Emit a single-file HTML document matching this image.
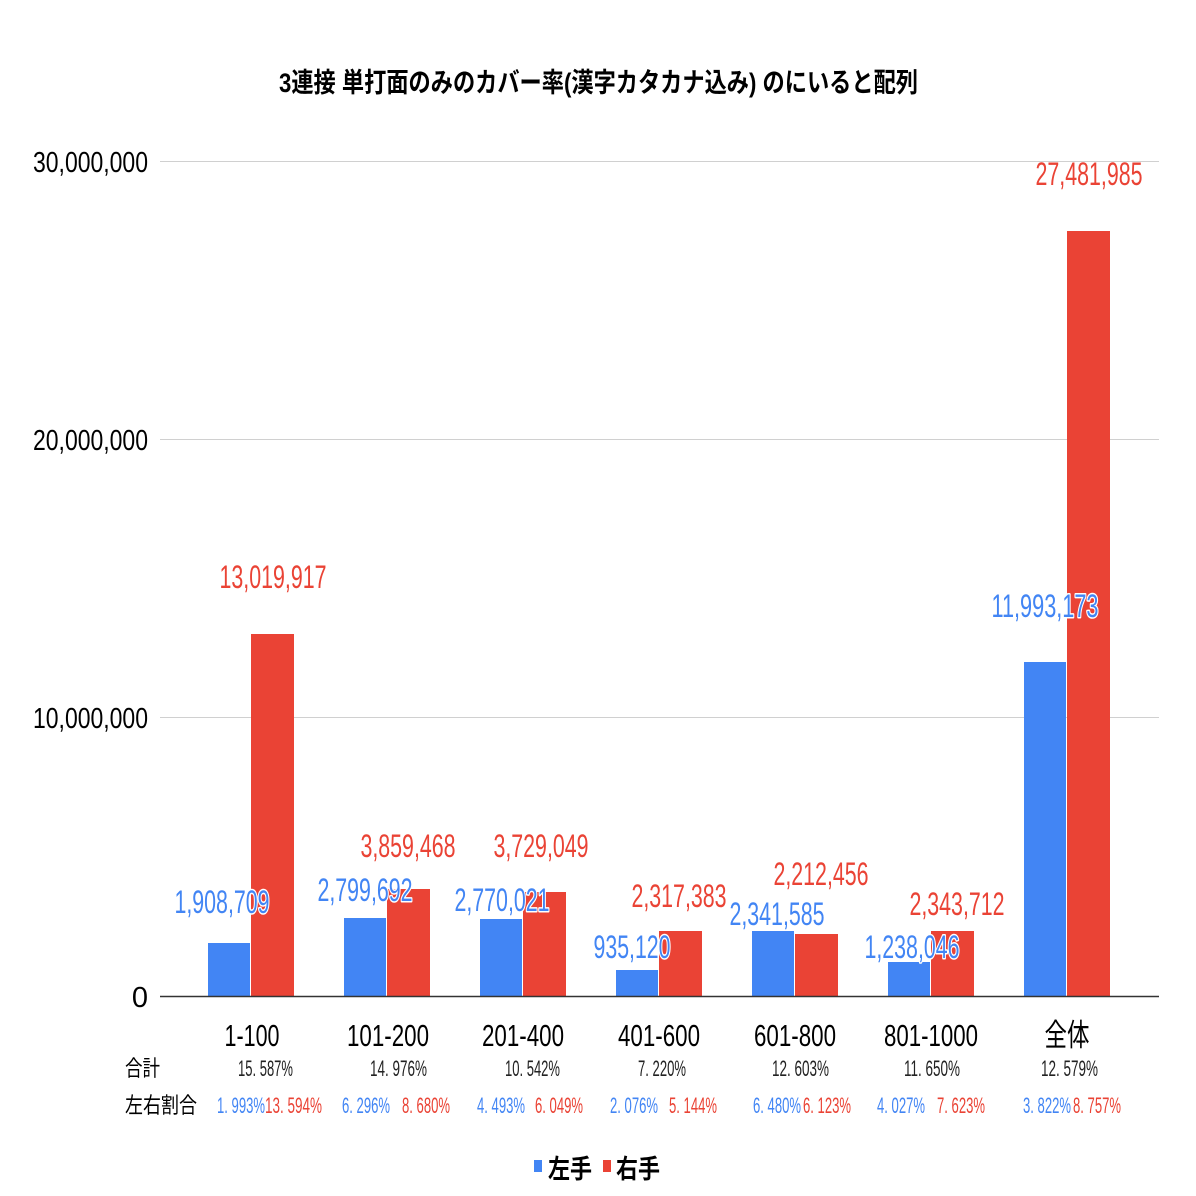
<!DOCTYPE html>
<html><head><meta charset="utf-8"><style>
html,body{margin:0;padding:0;background:#fff;}
svg{display:block;}
text{font-family:"Liberation Sans","Noto Sans CJK JP",sans-serif;}
.dl{font-size:32px;}
.b{fill:#4285F4;}
.r{fill:#EA4335;}
.bl{fill:#4285F4;stroke:#fff;stroke-width:3px;paint-order:stroke;stroke-linejoin:round;}
.pc{font-size:22px;}
</style></head><body>
<svg width="1196" height="1196" viewBox="0 0 1196 1196" xmlns="http://www.w3.org/2000/svg">
<rect width="1196" height="1196" fill="#fff"/>
<text x="279" y="92" font-size="27" font-weight="bold" textLength="639" lengthAdjust="spacingAndGlyphs">3連接 単打面のみのカバー率(漢字カタカナ込み) のにいると配列</text>
<g stroke="#d0d0d0" stroke-width="1">
<line x1="160" y1="161.5" x2="1159" y2="161.5"/>
<line x1="160" y1="439.5" x2="1159" y2="439.5"/>
<line x1="160" y1="717.5" x2="1159" y2="717.5"/>
</g>
<g font-size="29" text-anchor="end">
<text x="148" y="172" textLength="115" lengthAdjust="spacingAndGlyphs">30,000,000</text>
<text x="148" y="450" textLength="115" lengthAdjust="spacingAndGlyphs">20,000,000</text>
<text x="148" y="728" textLength="115" lengthAdjust="spacingAndGlyphs">10,000,000</text>
<text x="148" y="1007">0</text>
</g>
<g>
<rect class="b" x="208" y="943" width="42" height="53"/>
<rect class="r" x="251" y="634" width="43" height="362"/>
<rect class="b" x="344" y="918" width="42" height="78"/>
<rect class="r" x="387" y="889" width="43" height="107"/>
<rect class="b" x="480" y="919" width="42" height="77"/>
<rect class="r" x="523" y="892" width="43" height="104"/>
<rect class="b" x="616" y="970" width="42" height="26"/>
<rect class="r" x="659" y="931" width="43" height="65"/>
<rect class="b" x="752" y="931" width="42" height="65"/>
<rect class="r" x="795" y="934" width="43" height="62"/>
<rect class="b" x="888" y="962" width="42" height="34"/>
<rect class="r" x="931" y="931" width="43" height="65"/>
<rect class="b" x="1024" y="662" width="42" height="334"/>
<rect class="r" x="1067" y="231" width="43" height="765"/>
</g>
<line x1="160" y1="996.5" x2="1159" y2="996.5" stroke="#333" stroke-width="1.5"/>
<g class="dl" text-anchor="middle">
<text class="r" x="273" y="588" textLength="107" lengthAdjust="spacingAndGlyphs">13,019,917</text>
<text class="r" x="408" y="857" textLength="95" lengthAdjust="spacingAndGlyphs">3,859,468</text>
<text class="r" x="541" y="857" textLength="95" lengthAdjust="spacingAndGlyphs">3,729,049</text>
<text class="r" x="679" y="907" textLength="95" lengthAdjust="spacingAndGlyphs">2,317,383</text>
<text class="r" x="821" y="885" textLength="95" lengthAdjust="spacingAndGlyphs">2,212,456</text>
<text class="r" x="957" y="915" textLength="95" lengthAdjust="spacingAndGlyphs">2,343,712</text>
<text class="r" x="1089" y="185" textLength="107" lengthAdjust="spacingAndGlyphs">27,481,985</text>
<text class="bl" x="222" y="913" textLength="95" lengthAdjust="spacingAndGlyphs">1,908,709</text>
<text class="bl" x="365" y="901" textLength="95" lengthAdjust="spacingAndGlyphs">2,799,692</text>
<text class="bl" x="502" y="911" textLength="95" lengthAdjust="spacingAndGlyphs">2,770,021</text>
<text class="bl" x="632" y="958" textLength="77" lengthAdjust="spacingAndGlyphs">935,120</text>
<text class="bl" x="777" y="925" textLength="95" lengthAdjust="spacingAndGlyphs">2,341,585</text>
<text class="bl" x="912" y="958" textLength="95" lengthAdjust="spacingAndGlyphs">1,238,046</text>
<text class="bl" x="1045" y="617" textLength="107" lengthAdjust="spacingAndGlyphs">11,993,173</text>
</g>
<g font-size="31" text-anchor="middle">
<text x="252" y="1046" textLength="55" lengthAdjust="spacingAndGlyphs">1-100</text>
<text x="388" y="1046" textLength="82" lengthAdjust="spacingAndGlyphs">101-200</text>
<text x="523" y="1046" textLength="82" lengthAdjust="spacingAndGlyphs">201-400</text>
<text x="659" y="1046" textLength="82" lengthAdjust="spacingAndGlyphs">401-600</text>
<text x="795" y="1046" textLength="82" lengthAdjust="spacingAndGlyphs">601-800</text>
<text x="931" y="1046" textLength="94" lengthAdjust="spacingAndGlyphs">801-1000</text>
<text x="1067" y="1046" textLength="45" lengthAdjust="spacingAndGlyphs">全体</text>
</g>
<text x="125" y="1076" font-size="22" textLength="35" lengthAdjust="spacingAndGlyphs">合計</text>
<text x="125" y="1113" font-size="22" textLength="72" lengthAdjust="spacingAndGlyphs">左右割合</text>
<g class="pc" fill="#222">
<text x="238" y="1076" textLength="55" lengthAdjust="spacingAndGlyphs">15. 587%</text>
<text x="370" y="1076" textLength="57" lengthAdjust="spacingAndGlyphs">14. 976%</text>
<text x="505" y="1076" textLength="55" lengthAdjust="spacingAndGlyphs">10. 542%</text>
<text x="638" y="1076" textLength="48" lengthAdjust="spacingAndGlyphs">7. 220%</text>
<text x="772" y="1076" textLength="57" lengthAdjust="spacingAndGlyphs">12. 603%</text>
<text x="904" y="1076" textLength="56" lengthAdjust="spacingAndGlyphs">11. 650%</text>
<text x="1041" y="1076" textLength="57" lengthAdjust="spacingAndGlyphs">12. 579%</text>
</g>
<g class="pc">
<text class="b" x="217" y="1113" textLength="48" lengthAdjust="spacingAndGlyphs">1. 993%</text>
<text class="r" x="265" y="1113" textLength="57" lengthAdjust="spacingAndGlyphs">13. 594%</text>
<text class="b" x="342" y="1113" textLength="48" lengthAdjust="spacingAndGlyphs">6. 296%</text>
<text class="r" x="402" y="1113" textLength="48" lengthAdjust="spacingAndGlyphs">8. 680%</text>
<text class="b" x="477" y="1113" textLength="48" lengthAdjust="spacingAndGlyphs">4. 493%</text>
<text class="r" x="535" y="1113" textLength="48" lengthAdjust="spacingAndGlyphs">6. 049%</text>
<text class="b" x="610" y="1113" textLength="48" lengthAdjust="spacingAndGlyphs">2. 076%</text>
<text class="r" x="669" y="1113" textLength="48" lengthAdjust="spacingAndGlyphs">5. 144%</text>
<text class="b" x="753" y="1113" textLength="48" lengthAdjust="spacingAndGlyphs">6. 480%</text>
<text class="r" x="803" y="1113" textLength="48" lengthAdjust="spacingAndGlyphs">6. 123%</text>
<text class="b" x="877" y="1113" textLength="48" lengthAdjust="spacingAndGlyphs">4. 027%</text>
<text class="r" x="937" y="1113" textLength="48" lengthAdjust="spacingAndGlyphs">7. 623%</text>
<text class="b" x="1023" y="1113" textLength="48" lengthAdjust="spacingAndGlyphs">3. 822%</text>
<text class="r" x="1073" y="1113" textLength="48" lengthAdjust="spacingAndGlyphs">8. 757%</text>
</g>
<rect class="b" x="534" y="1160" width="8" height="12"/>
<text x="548" y="1178" font-size="26" font-weight="bold" textLength="44" lengthAdjust="spacingAndGlyphs">左手</text>
<rect class="r" x="603" y="1160" width="8" height="12"/>
<text x="616" y="1178" font-size="26" font-weight="bold" textLength="44" lengthAdjust="spacingAndGlyphs">右手</text>
</svg>
</body></html>
